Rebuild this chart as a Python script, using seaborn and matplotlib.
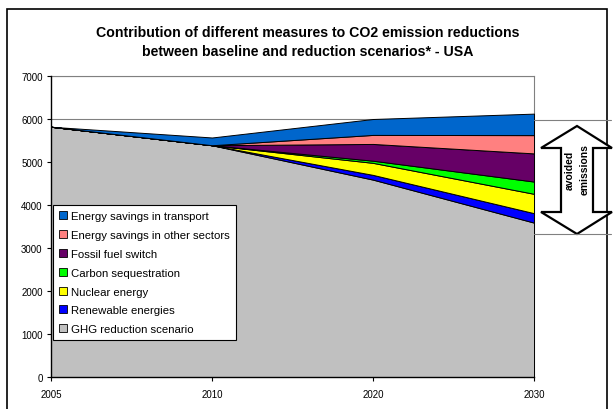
import matplotlib
matplotlib.use("Agg")
import matplotlib.pyplot as plt
import seaborn as sns
import numpy as np
from matplotlib.patches import Polygon, Rectangle
from matplotlib.lines import Line2D

years = ["2005", "2010", "2020", "2030"]
ghg_reduction = [5820, 5390, 4590, 3590]
renewable = [0, 0, 110, 220]
nuclear = [0, 0, 280, 450]
carbon_seq = [0, 0, 50, 285]
fossil_switch = [0, 0, 390, 655]
savings_other = [0, 0, 210, 425]
savings_transport = [0, 180, 370, 500]

series_names = ["GHG reduction scenario", "Renewable energies", "Nuclear energy",
                "Carbon sequestration", "Fossil fuel switch",
                "Energy savings in other sectors", "Energy savings in transport"]
colors = ["#C0C0C0", "#0000FF", "#FFFF00", "#00FF00", "#660066", "#FF8080", "#0066CC"]
yticks = [0, 1000, 2000, 3000, 4000, 5000, 6000, 7000]

sns.set_theme(style="white")
plt.rcParams['font.family'] = ['Liberation Sans', 'DejaVu Sans']
plt.rcParams['text.color'] = 'black'

fig = plt.figure(figsize=(6.15, 4.1), dpi=100)
W, H = 615, 410
def fx(px): return px / W
def fy(py): return 1 - py / H

ax = fig.add_axes([fx(51), fy(378), fx(534) - fx(51), fy(77) - fy(378)])
x = np.arange(len(years))
data = [ghg_reduction, renewable, nuclear, carbon_seq, fossil_switch, savings_other, savings_transport]
polys = ax.stackplot(x, *data, colors=colors, labels=series_names,
                     edgecolor="black", linewidth=0.7, zorder=3)

ax.set_xlim(0, len(years) - 1)
ax.set_ylim(0, 7000)
ax.set_xticks(x)
ax.set_xticklabels(years)
ax.set_yticks(yticks)
ax.set_yticklabels([str(v) for v in yticks])
ax.tick_params(axis="both", labelsize=7, colors="black", length=3, width=0.8,
               direction="out", pad=3)
ax.tick_params(axis="x", pad=6)
ax.tick_params(left=True, bottom=True)
ax.yaxis.grid(True, color="#808080", linewidth=0.8, zorder=0)
ax.set_axisbelow(True)
for side in ["top", "right"]:
    ax.spines[side].set_color("#808080")
    ax.spines[side].set_linewidth(0.8)
for side in ["left", "bottom"]:
    ax.spines[side].set_color("black")
    ax.spines[side].set_linewidth(1.0)
    ax.spines[side].set_zorder(5)

handles, labels = ax.get_legend_handles_labels()
leg = ax.legend(handles[::-1], labels[::-1], loc="lower left",
                bbox_to_anchor=(fx(53), fy(341)), bbox_transform=fig.transFigure,
                fontsize=8.2, frameon=True, fancybox=False, edgecolor="black",
                facecolor="white", framealpha=1, labelcolor="black",
                handlelength=0.7, handleheight=0.7, handletextpad=0.4,
                labelspacing=0.78, borderpad=0.5, borderaxespad=0)
leg.get_frame().set_linewidth(0.8)
leg.set_zorder(10)
for h in leg.legend_handles:
    h.set_edgecolor("black")
    h.set_linewidth(0.6)

fig.text(0.5, fy(33), "Contribution of different measures to CO2 emission reductions",
         ha="center", va="center", fontsize=10.2, fontweight="bold", color="black")
fig.text(0.5, fy(52), "between baseline and reduction scenarios* - USA",
         ha="center", va="center", fontsize=10.2, fontweight="bold", color="black")

# chart border
fig.patches.append(Rectangle((fx(7), fy(420)), fx(607) - fx(7), fy(10) - fy(420),
                             transform=fig.transFigure, fill=False,
                             edgecolor="black", linewidth=1.2))

# annotation lines
for py in [121, 235]:
    fig.lines.append(Line2D([fx(534), fx(611)], [fy(py), fy(py)],
                            transform=fig.transFigure, color="#808080", linewidth=0.8))

# double arrow
cx = 577
pts = [(cx, 127), (612, 149), (593, 149), (593, 213), (612, 213), (cx, 235),
       (541, 213), (561, 213), (561, 149), (541, 149)]
fig.patches.append(Polygon([(fx(a), fy(b)) for a, b in pts], closed=True,
                           transform=fig.transFigure, facecolor="white",
                           edgecolor="black", linewidth=1.6))
fig.text(fx(cx - 7), fy(170), "avoided", rotation=90, ha="center", va="center",
         fontsize=7.5, fontweight="bold", color="black")
fig.text(fx(cx + 8), fy(170), "emissions", rotation=90, ha="center", va="center",
         fontsize=7.5, fontweight="bold", color="black")

fig.savefig("out.png", dpi=100)
